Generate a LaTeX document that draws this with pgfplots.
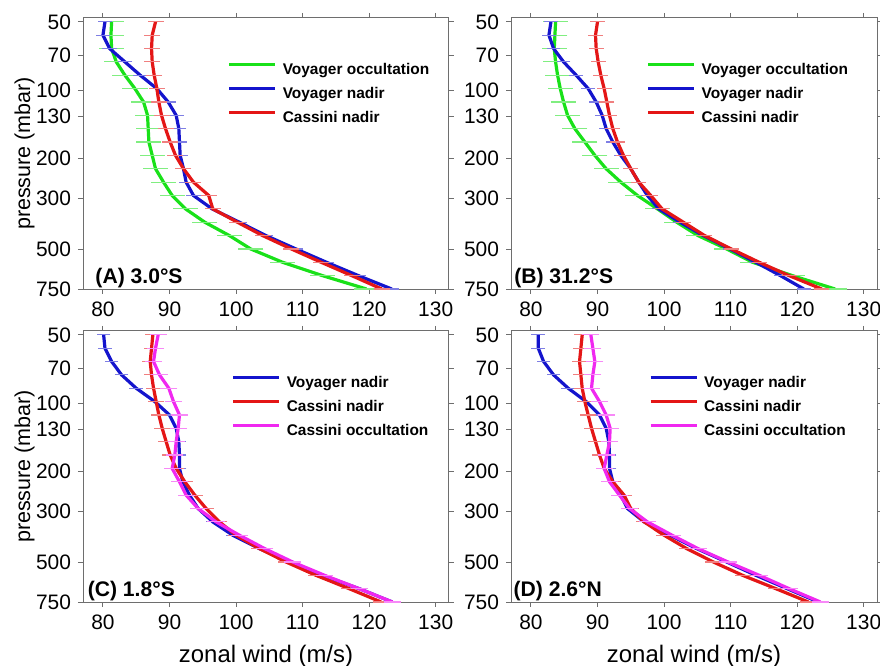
\documentclass[border=0pt]{standalone}
\usepackage{fontspec}
\setmainfont{Liberation Sans}
\usepackage{pgfplots}
\pgfplotsset{compat=1.18}
\usepackage{pgfplotstable}
\usetikzlibrary{plotmarks}

\definecolor{cgreen}{RGB}{25,225,25}
\definecolor{cblue}{RGB}{20,20,205}
\definecolor{cred}{RGB}{228,22,22}
\definecolor{cmag}{RGB}{240,40,240}
\definecolor{spine}{RGB}{110,110,110}

% Panel A: 3.0 S
\pgfplotstableread{
p vo vn cn
50 81.3 80.3 87.9
57.25 81.2 80.0 87.4
65.55 81.3 81.0 87.3
75.05 82.0 83.3 87.4
85.93 83.3 85.6 87.7
98.40 84.8 88.1 88.1
112.67 86.1 89.8 88.4
129.0 86.7 91.0 88.8
147.7 86.8 91.4 89.4
169.1 86.9 91.5 90.1
193.6 87.4 91.6 90.9
221.7 87.9 92.1 92.1
253.9 89.1 92.5 93.6
290.7 90.4 93.6 95.9
332.9 92.4 96.4 96.5
381.1 95.3 100.5 100.2
436.4 99.0 104.5 104.0
499.7 102.2 109.0 108.3
572.1 107.0 113.6 112.8
655.1 113.0 118.4 117.4
750 119.6 123.4 121.9
}\tabA

% Panel B: 31.2 S
\pgfplotstableread{
p vo vn cn
50 83.7 83.0 90.0
57.25 83.6 82.7 89.7
65.55 83.5 83.4 89.8
75.05 83.7 84.9 90.1
85.93 84.0 86.8 90.5
98.40 84.4 88.6 91.0
112.67 84.9 89.8 91.4
129.0 85.5 90.7 91.8
147.7 86.6 91.3 92.3
169.1 88.1 92.3 93.0
193.6 89.6 93.5 93.9
221.7 91.3 95.0 95.0
253.9 93.5 96.2 96.2
290.7 96.0 97.5 98.0
332.9 99.0 99.2 99.7
381.1 101.9 102.4 102.9
436.4 105.1 105.9 106.1
499.7 109.4 109.9 110.1
572.1 113.3 113.8 114.3
655.1 119.3 117.5 118.8
750 125.7 121.0 123.7
}\tabB

% Panel C: 1.8 S
\pgfplotstableread{
p vn cn co
50 80.1 87.5 88.3
57.25 80.3 87.3 87.9
65.55 81.3 87.1 87.6
75.05 82.8 87.3 88.5
85.93 85.0 87.6 89.9
98.40 87.8 88.0 90.6
112.67 90.0 88.4 91.5
129.0 91.0 88.9 91.3
147.7 91.4 89.5 91.0
169.1 91.5 90.1 90.8
193.6 91.5 91.0 90.4
221.7 92.0 92.3 91.5
253.9 93.0 93.8 92.5
290.7 94.3 95.5 94.3
332.9 96.5 97.5 97.0
381.1 99.5 100.0 100.5
436.4 103.5 103.5 104.3
499.7 108.0 107.5 108.5
572.1 113.0 112.0 113.3
655.1 118.5 117.0 118.5
750 123.5 121.8 123.5
}\tabC

% Panel D: 2.6 N
\pgfplotstableread{
p vn cn co
50 81.1 87.7 89.0
57.25 81.1 87.5 89.3
65.55 81.9 87.3 89.6
75.05 83.4 87.5 89.3
85.93 85.6 87.7 89.1
98.40 88.3 88.1 90.3
112.67 90.3 88.6 91.3
129.0 91.3 89.1 91.9
147.7 91.7 89.7 91.8
169.1 91.8 90.3 91.4
193.6 91.8 91.0 91.0
221.7 92.3 92.3 91.8
253.9 93.5 94.0 93.3
290.7 94.5 95.0 94.8
332.9 97.0 97.0 97.5
381.1 100.9 100.0 101.2
436.4 104.9 103.4 105.1
499.7 109.4 107.4 109.6
572.1 113.8 111.8 114.3
655.1 118.5 116.8 118.8
750 123.2 121.7 123.5
}\tabD

\pgfplotsset{
  legend image code/.code={\draw[#1, line width=1.6bp] (0bp,2.8bp) -- (23bp,2.8bp);},
  every axis/.append style={
    scale only axis, width=183bp, height=135.6bp,
    xmin=77, xmax=132,
    ymode=log, ymin=48, ymax=750, y dir=reverse,
    xtick={80,90,100,110,120,130},
    xticklabels={80,90,100,110,120,130},
    ytick={50,70,100,130,200,300,500,750},
    yticklabels={50,70,100,130,200,300,500,750},
    yminorticks=false,
    tick align=outside, major tick length=2.5bp,
    axis line style={spine, line width=0.5bp},
    tick style={spine, line width=0.5bp},
    tick label style={font=\fontsize{10.5}{12}\selectfont, black},
    xticklabel style={yshift=-0.5bp},
    ylabel style={at={(axis description cs:-0.16,0.5)}, anchor=center, font=\fontsize{10.8}{13}\selectfont},
    xlabel style={at={(axis description cs:0.5,0)}, anchor=center, yshift=-27bp, font=\fontsize{12}{14}\selectfont},
    legend cell align=left,
    legend style={draw=none, fill=none, anchor=north west, inner sep=0pt, outer sep=0pt,
      row sep=4.5bp, column sep=3bp, font=\fontsize{7.75}{9}\selectfont\bfseries,
      nodes={inner sep=0pt, text height=6bp, text depth=1.5bp}},
  },
}

\begin{document}
\begin{tikzpicture}
\useasboundingbox (0,0) rectangle (440bp,333bp);

% (A)
\begin{axis}[at={(41.5bp,188.5bp)}, anchor=south west,
  ylabel={pressure (mbar)},
  legend style={at={(axis description cs:0.395,0.835)}}]
\addplot[forget plot, only marks, mark=-, mark size=6.3bp, mark options={draw=cgreen!55!white, line width=0.6bp}] table[x=vo, y=p] {\tabA};
\addplot[forget plot, only marks, mark=-, mark size=3.7bp, mark options={draw=cblue!55!white, line width=0.6bp}] table[x=vn, y=p] {\tabA};
\addplot[forget plot, only marks, mark=-, mark size=4bp, mark options={draw=cred!55!white, line width=0.6bp}] table[x=cn, y=p] {\tabA};
\addplot[cgreen, line width=1.6bp] table[x=vo, y=p] {\tabA};
\addlegendentry{Voyager occultation}
\addplot[cblue, line width=1.6bp] table[x=vn, y=p] {\tabA};
\addlegendentry{Voyager nadir}
\addplot[cred, line width=1.6bp] table[x=cn, y=p] {\tabA};
\addlegendentry{Cassini nadir}
\node[anchor=base west, inner sep=0pt, font=\fontsize{10.6}{12}\selectfont\bfseries] at (axis description cs:0.033,0.022) {(A) 3.0°S};
\end{axis}

% (B)
\begin{axis}[at={(255.5bp,188.5bp)}, anchor=south west,
  legend style={at={(axis description cs:0.37,0.835)}}]
\addplot[forget plot, only marks, mark=-, mark size=6.2bp, mark options={draw=cgreen!55!white, line width=0.6bp}] table[x=vo, y=p] {\tabB};
\addplot[forget plot, only marks, mark=-, mark size=3.4bp, mark options={draw=cblue!55!white, line width=0.6bp}] table[x=vn, y=p] {\tabB};
\addplot[forget plot, only marks, mark=-, mark size=3.7bp, mark options={draw=cred!55!white, line width=0.6bp}] table[x=cn, y=p] {\tabB};
\addplot[cgreen, line width=1.6bp] table[x=vo, y=p] {\tabB};
\addlegendentry{Voyager occultation}
\addplot[cblue, line width=1.6bp] table[x=vn, y=p] {\tabB};
\addlegendentry{Voyager nadir}
\addplot[cred, line width=1.6bp] table[x=cn, y=p] {\tabB};
\addlegendentry{Cassini nadir}
\node[anchor=base west, inner sep=0pt, font=\fontsize{10.6}{12}\selectfont\bfseries] at (axis description cs:0.008,0.022) {(B) 31.2°S};
\end{axis}

% (C)
\begin{axis}[at={(41.5bp,32bp)}, anchor=south west,
  ylabel={pressure (mbar)}, xlabel={zonal wind (m/s)},
  legend style={at={(axis description cs:0.406,0.835)}}]
\addplot[forget plot, only marks, mark=-, mark size=3.4bp, mark options={draw=cblue!55!white, line width=0.6bp}] table[x=vn, y=p] {\tabC};
\addplot[forget plot, only marks, mark=-, mark size=4bp, mark options={draw=cred!55!white, line width=0.6bp}] table[x=cn, y=p] {\tabC};
\addplot[forget plot, only marks, mark=-, mark size=4.3bp, mark options={draw=cmag!55!white, line width=0.6bp}] table[x=co, y=p] {\tabC};
\addplot[cblue, line width=1.6bp] table[x=vn, y=p] {\tabC};
\addlegendentry{Voyager nadir}
\addplot[cred, line width=1.6bp] table[x=cn, y=p] {\tabC};
\addlegendentry{Cassini nadir}
\addplot[cmag, line width=1.6bp] table[x=co, y=p] {\tabC};
\addlegendentry{Cassini occultation}
\node[anchor=base west, inner sep=0pt, font=\fontsize{10.6}{12}\selectfont\bfseries] at (axis description cs:0.012,0.022) {(C) 1.8°S};
\end{axis}

% (D)
\begin{axis}[at={(255.5bp,32bp)}, anchor=south west,
  xlabel={zonal wind (m/s)},
  legend style={at={(axis description cs:0.377,0.835)}}]
\addplot[forget plot, only marks, mark=-, mark size=3.4bp, mark options={draw=cblue!55!white, line width=0.6bp}] table[x=vn, y=p] {\tabD};
\addplot[forget plot, only marks, mark=-, mark size=4bp, mark options={draw=cred!55!white, line width=0.6bp}] table[x=cn, y=p] {\tabD};
\addplot[forget plot, only marks, mark=-, mark size=4.3bp, mark options={draw=cmag!55!white, line width=0.6bp}] table[x=co, y=p] {\tabD};
\addplot[cblue, line width=1.6bp] table[x=vn, y=p] {\tabD};
\addlegendentry{Voyager nadir}
\addplot[cred, line width=1.6bp] table[x=cn, y=p] {\tabD};
\addlegendentry{Cassini nadir}
\addplot[cmag, line width=1.6bp] table[x=co, y=p] {\tabD};
\addlegendentry{Cassini occultation}
\node[anchor=base west, inner sep=0pt, font=\fontsize{10.6}{12}\selectfont\bfseries] at (axis description cs:0.006,0.022) {(D) 2.6°N};
\end{axis}
\end{tikzpicture}
\end{document}
